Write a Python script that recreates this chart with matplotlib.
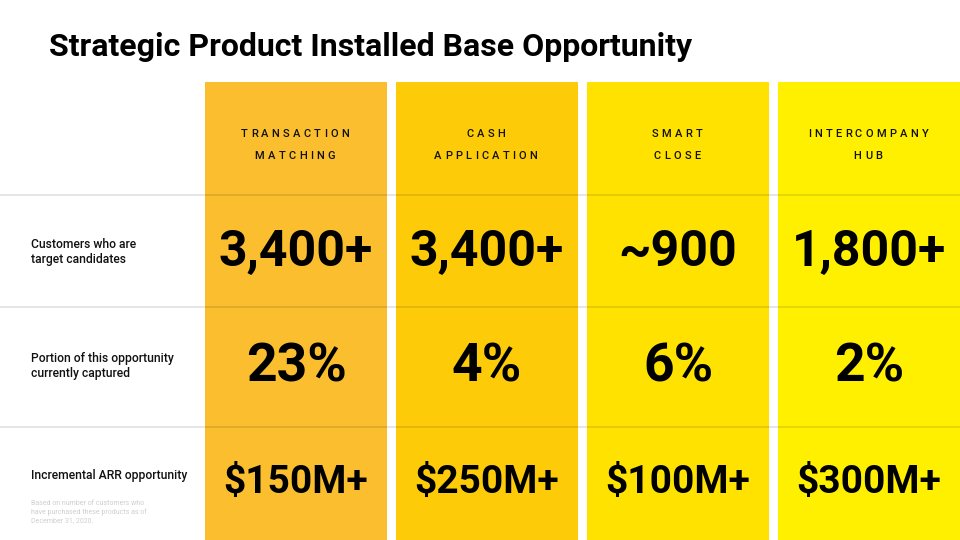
import matplotlib
matplotlib.use("Agg")
import matplotlib.pyplot as plt
from matplotlib.patches import Rectangle

title = "Strategic Product Installed Base Opportunity"
products = [["TRANSACTION", "MATCHING"], ["CASH", "APPLICATION"],
            ["SMART", "CLOSE"], ["INTERCOMPANY", "HUB"]]
row_labels = ["Customers who are\ntarget candidates",
              "Portion of this opportunity\ncurrently captured",
              "Incremental ARR opportunity"]
customers = ["3,400+", "3,400+", "~900", "1,800+"]
captured = ["23%", "4%", "6%", "2%"]
arr = ["$150M+", "$250M+", "$100M+", "$300M+"]
footnote = "Based on number of customers who\nhave purchased these products as of\nDecember 31, 2020."
col_colors = ["#FBBE2E", "#FDCB08", "#FFE200", "#FFF000"]

W, H = 960, 540
fig = plt.figure(figsize=(9.6, 5.4), dpi=100)
ax = fig.add_axes([0, 0, 1, 1])
ax.set_xlim(0, W)
ax.set_ylim(H, 0)
ax.axis("off")

FONT = "Roboto"

col_left = [205, 396, 587, 778]
col_w = 182
col_top = 82
for x0, c in zip(col_left, col_colors):
    ax.add_patch(Rectangle((x0, col_top), col_w, H - col_top, color=c, lw=0, zorder=1))

for y in [195, 307, 427]:
    ax.plot([0, W], [y, y], color="#000000", alpha=0.12, lw=1.2, zorder=2)

ax.text(49, 56, title, fontsize=23, fontweight="bold", family=FONT,
        ha="left", va="baseline", color="black")

fig.canvas.draw()
renderer = fig.canvas.get_renderer()

def tracked_text(cx, cy, s, size, spacing_px, weight, va, color):
    # text with custom letter spacing, centred on cx
    widths = []
    for ch in s:
        t = ax.text(0, 0, ch, fontsize=size, fontweight=weight, family=FONT)
        bb = t.get_window_extent(renderer=renderer)
        widths.append(bb.width)
        t.remove()
    total = sum(widths) + spacing_px * (len(s) - 1)
    x = cx - total / 2
    for ch, w in zip(s, widths):
        ax.text(x, cy, ch, fontsize=size, fontweight=weight, family=FONT,
                ha="left", va=va, color=color, zorder=3)
        x += w + spacing_px

for x0, lines in zip(col_left, products):
    cx = x0 + col_w / 2 - 1
    for i, ln in enumerate(lines):
        tracked_text(cx, 137.3 + 22 * i, ln, 8, 3.3, "medium", "baseline", "#111111")

label_y = [251.5, 366, 475]
for y, lab in zip(label_y, row_labels):
    ax.text(31, y, lab, fontsize=8.7, fontweight="medium", family=FONT,
            ha="left", va="center", color="#111111", linespacing=1.2, zorder=3)

ax.text(31, 512, footnote, fontsize=5, family=FONT, ha="left", va="center",
        color="#cfcfcf", linespacing=1.25, zorder=3)

# (values, baseline y, font size pt)
value_rows = [(customers, 266, 36), (captured, 382, 38.5), (arr, 493, 28)]
for vals, y, fs in value_rows:
    for x0, v in zip(col_left, vals):
        ax.text(x0 + col_w / 2, y, v, fontsize=fs, fontweight="bold", family=FONT,
                ha="center", va="baseline", color="black", zorder=3)

fig.savefig("out.png", dpi=100)
